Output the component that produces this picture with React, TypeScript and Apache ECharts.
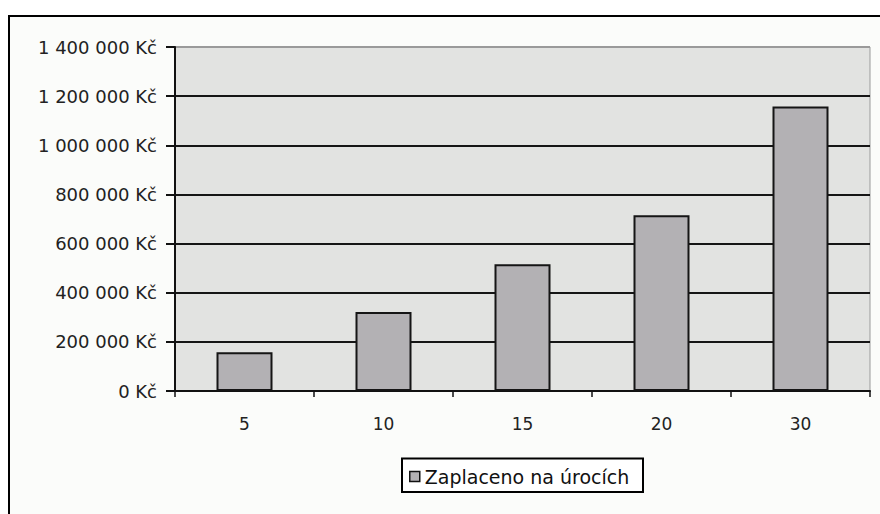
import React, { useEffect, useRef } from "react";
import * as echarts from "echarts";

const categories = ["5", "10", "15", "20", "30"];
const interestPaid = [158000, 322000, 516000, 715000, 1158000];
const seriesName = "Zaplaceno na úrocích";
const yMax = 1400000;
const yStep = 200000;

const FONT = "DejaVu Sans";

function fmt(v: number): string {
  return String(v).replace(/\B(?=(\d{3})+(?!\d))/g, " ") + " Kč";
}

export default function App() {
  const ref = useRef<HTMLDivElement>(null);
  useEffect(() => {
    if (!ref.current) return;
    const chart = echarts.init(ref.current, null, { renderer: "svg" });
    const splitColors: string[] = [];
    for (let v = 0; v <= yMax; v += yStep) splitColors.push(v === yMax ? "#9a9a9a" : "#151515");
    chart.setOption({
      animation: false,
      backgroundColor: "#ffffff",
      graphic: [
        {
          type: "rect",
          z: -100,
          shape: { x: 9, y: 16, width: 900, height: 600 },
          style: { fill: "#fbfcfa", stroke: "#000000", lineWidth: 2 },
        },
        {
          type: "rect",
          z: 1,
          shape: { x: 402, y: 458.5, width: 241, height: 33.5 },
          style: { fill: "#ffffff", stroke: "#000000", lineWidth: 2 },
        },
      ],
      grid: {
        left: 175,
        top: 47,
        right: 10,
        bottom: 123,
        show: true,
        backgroundColor: "#e2e3e1",
        borderColor: "#9a9a9a",
        borderWidth: 1,
      },
      legend: {
        show: true,
        left: 409,
        top: 466,
        padding: 0,
        itemWidth: 10,
        itemHeight: 10,
        itemGap: 4,
        icon: "rect",
        z: 5,
        textStyle: { fontFamily: FONT, fontSize: 19, color: "#111111", lineHeight: 21, padding: [0, 0, 0, 0] },
        data: [{ name: seriesName, itemStyle: { color: "#b3b1b4", borderColor: "#111111", borderWidth: 1.5 } }],
      },
      xAxis: {
        type: "category",
        data: categories,
        boundaryGap: true,
        axisLine: { show: true, lineStyle: { color: "#111111", width: 2 } },
        axisTick: { show: true, length: 6, interval: 0, lineStyle: { color: "#111111", width: 1.5 } },
        axisLabel: { margin: 24, fontFamily: FONT, fontSize: 17, color: "#222222" },
        splitLine: { show: false },
      },
      yAxis: {
        type: "value",
        min: 0,
        max: yMax,
        interval: yStep,
        axisLine: { show: true, lineStyle: { color: "#111111", width: 2 } },
        axisTick: { show: true, inside: false, length: 9, lineStyle: { color: "#111111", width: 2 } },
        axisLabel: { margin: 18, fontFamily: FONT, fontSize: 18, color: "#222222", formatter: (v: number) => fmt(v) },
        splitLine: { show: true, lineStyle: { color: splitColors, width: 2 } },
      },
      series: [
        {
          name: seriesName,
          type: "bar",
          data: interestPaid,
          barWidth: 56,
          itemStyle: { color: "#b3b1b4", borderColor: "#151515", borderWidth: 2 },
        },
      ],
    });
    return () => chart.dispose();
  }, []);
  return (
    <div
      ref={ref}
      style={{ position: "absolute", left: 0, top: 0, width: 880, height: 514 }}
    />
  );
}
